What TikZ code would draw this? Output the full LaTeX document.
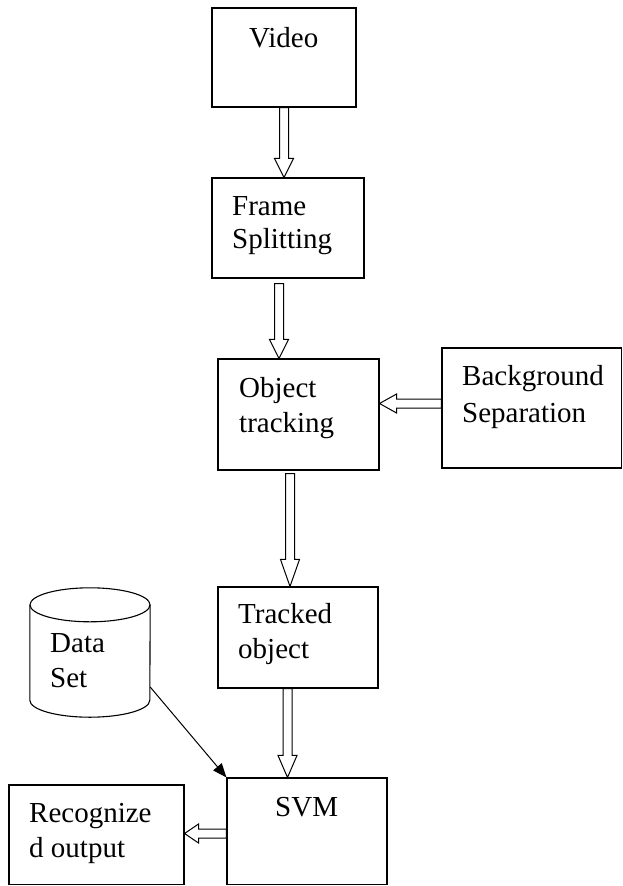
\documentclass[tikz,border=0pt]{standalone}
\usepackage{fontspec}
\setmainfont{Liberation Serif}
\usetikzlibrary{arrows.meta, positioning, calc}

\tikzset{
  box/.style={draw, line width=1.1pt, inner sep=0pt},
  txt/.style={anchor=base west, inner sep=0pt, align=left, font=\fontsize{29}{35}\selectfont},
  hollow/.style={draw, line width=1pt, line join=miter, fill=white},
  thinarrow/.style={line width=1pt, -{Triangle[length=14pt, width=11pt]}}
}

% open block arrow from #2 to #3, #1 = head length
\newcommand\hollowarrow[3][19pt]{%
  \coordinate (hbase) at ($(#3)!#1!(#2)$);
  \path[hollow] ($(#2)!4.5pt!90:(#3)$) -- ($(hbase)!4.5pt!90:(#3)$)
    -- ($(hbase)!9.5pt!90:(#3)$) -- (#3)
    -- ($(hbase)!9.5pt!-90:(#3)$) -- ($(hbase)!4.5pt!-90:(#3)$)
    -- ($(#2)!4.5pt!-90:(#3)$) -- cycle;
}

\begin{document}
\begin{tikzpicture}[x=1pt, y=-1pt]
  \useasboundingbox (0,0) rectangle (623,886);

  % boxes
  \node[box, minimum width=144pt, minimum height=99pt] (video) at (284,57.5) {};
  \node[box, minimum width=152pt, minimum height=100pt] (frame) at (288,228) {};
  \node[box, minimum width=161pt, minimum height=111pt] (object) at (298.5,414.5) {};
  \node[box, minimum width=179.5pt, minimum height=120pt] (backgr) at (531.75,408) {};
  \node[box, minimum width=160pt, minimum height=101pt] (tracked) at (298,637.5) {};
  \node[box, minimum width=160pt, minimum height=106.5pt] (svm) at (307,831.25) {};
  \node[box, minimum width=175pt, minimum height=99.5pt] (output) at (96.5,834.75) {};

  % data store
  \node[inner sep=0pt, minimum width=120pt, minimum height=95pt] (store) at (90,652.5) {};
  \draw[line width=1.1pt] (store.north west) -- (store.south west)
    arc[start angle=180, end angle=360, x radius=60pt, y radius=17pt] -- (store.north east);
  \draw[line width=1.1pt] (store.north) ellipse [x radius=60pt, y radius=17pt];

  % labels (base = last line)
  \node[txt] (videotxt) at (249,47) {Video};
  \node[txt] (frametxt) at (232,248) {Frame\\[-2pt]Splitting};
  \node[txt] (objecttxt) at (239,432) {Object\\tracking};
  \node[txt] (backgrtxt) at (462,422) {Background\\[2pt]Separation};
  \node[txt] (trackedtxt) at (238,658) {Tracked\\object};
  \node[txt] (datatxt) at (50,687) {Data\\Set};
  \node[txt] (svmtxt) at (275,816) {SVM};
  \node[txt] (outputtxt) at (29,857) {Recognize\\d output};

  % arrow ends
  \coordinate (s1) at (video.south);
  \coordinate (e1) at (s1 |- frame.north);
  \coordinate (s2) at ([xshift=-9pt, yshift=-5pt]frame.south);
  \coordinate (e2) at (s2 |- object.north);
  \coordinate (s3) at ([yshift=4.5pt]backgr.west);
  \coordinate (e3) at (object.east |- s3);
  \coordinate (s4) at ([xshift=-8.5pt, yshift=-3pt]object.south);
  \coordinate (e4) at (s4 |- tracked.north);
  \coordinate (s5) at ([xshift=-10.5pt]tracked.south);
  \coordinate (e5) at (s5 |- svm.north);
  \coordinate (s6) at ([yshift=-2.25pt]svm.west);
  \coordinate (e6) at (output.east |- s6);
  \coordinate (s7) at ([yshift=-34.5pt]store.east);

  \hollowarrow{s1}{e1}
  \hollowarrow{s2}{e2}
  \hollowarrow[17pt]{s3}{e3}
  \hollowarrow[27pt]{s4}{e4}
  \hollowarrow[22pt]{s5}{e5}
  \hollowarrow[14pt]{s6}{e6}
  \draw[thinarrow] (s7) -- (svm.north west);
\end{tikzpicture}
\end{document}
